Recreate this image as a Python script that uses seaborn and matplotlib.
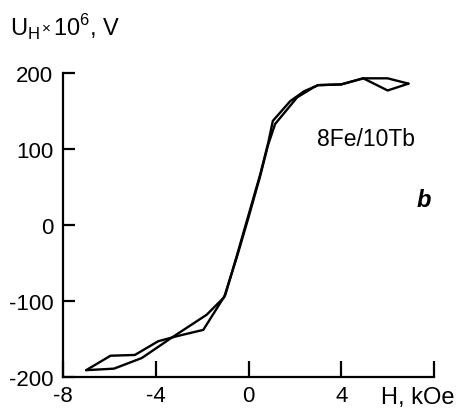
import matplotlib
matplotlib.use("Agg")
import matplotlib.pyplot as plt
import seaborn as sns
import pandas as pd

# Hall voltage loop, field swept down (branch A) and back up (branch B)
h_down = [6.9, 6.0, 4.95, 4.0, 3.0, 2.4, 1.8, 1.05, 0.85, 0.5, 0.0, -0.5, -1.0,
          -1.95, -3.05, -3.9, -4.9, -5.95, -7.0]
u_down = [186, 193, 193, 185, 184, 176, 163, 137, 108, 66, 13, -40, -92,
          -138, -146, -153, -171, -172, -191]
h_up = [-7.0, -5.8, -4.6, -3.35, -1.8, -1.05, -0.5, 0.0, 0.5, 0.85, 1.15, 2.1,
        2.8, 3.0, 4.0, 4.95, 6.0, 6.9]
u_up = [-191, -189, -175, -149, -118, -95, -42, 10, 64, 106, 133, 168,
        181, 184, 185, 193, 177, 186]

x_ticks = [-8, -4, 0, 4, 8]
x_tick_labels = ["-8", "-4", "0", "4", ""]
y_ticks = [-200, -100, 0, 100, 200]
y_tick_labels = ["-200", "-100", "0", "100", "200"]

sns.set_theme(style="ticks")
plt.rcParams["font.family"] = ["Liberation Sans", "DejaVu Sans"]
plt.rcParams["mathtext.fontset"] = "custom"
plt.rcParams["mathtext.rm"] = "Liberation Sans"
plt.rcParams["text.color"] = "black"

df = pd.concat([
    pd.DataFrame({"H": h_down, "U": u_down, "branch": "down",
                  "step": range(len(h_down))}),
    pd.DataFrame({"H": h_up, "U": u_up, "branch": "up",
                  "step": range(len(h_up))}),
], ignore_index=True)

W, Hpx = 462, 410
fig = plt.figure(figsize=(W / 100, Hpx / 100), dpi=100)
ax = fig.add_axes([63 / W, 32 / Hpx, 371 / W, 304 / Hpx])

sns.lineplot(data=df, x="H", y="U", units="branch", estimator=None,
             sort=False, color="black", linewidth=1.7, ax=ax, clip_on=False)

ax.set_xlim(-8, 8)
ax.set_ylim(-200, 200)
ax.set_xticks(x_ticks)
ax.set_xticklabels(x_tick_labels)
ax.set_yticks(y_ticks)
ax.set_yticklabels(y_tick_labels)
ax.set_xlabel("")
ax.set_ylabel("")

for side in ("top", "right"):
    ax.spines[side].set_visible(False)
for side in ("left", "bottom"):
    ax.spines[side].set_linewidth(1.6)
    ax.spines[side].set_color("black")

ax.tick_params(axis="x", direction="in", length=11.5, width=1.6, pad=6,
               labelsize=16, colors="black")
ax.tick_params(axis="y", direction="in", length=8.5, width=1.6, pad=7,
               labelsize=16, colors="black")

ax.text(2.97, 114, "8Fe/10Tb", fontsize=16.5, ha="left", va="center")
ax.text(7.54, 33, "b", fontsize=17, fontweight="bold", fontstyle="italic",
        ha="center", va="center")

fig.text(418 / W, 1 - 398 / Hpx, "H, kOe", fontsize=17,
         ha="center", va="center")

# y-axis title: U_H, a small raised multiplication sign, then 10^6, V
renderer = fig.canvas.get_renderer()
baseline = 1 - 36 / Hpx
t1 = fig.text(10 / W, baseline, r"U$_\mathregular{H}$",
              fontsize=17, ha="left", va="baseline")
x_next = t1.get_window_extent(renderer).x1 + 2
t2 = fig.text(x_next / W, baseline + 3 / Hpx, "×", fontsize=11,
              ha="left", va="baseline")
x_next = t2.get_window_extent(renderer).x1 + 2
fig.text(x_next / W, baseline, r"10$^\mathregular{6}$, V",
         fontsize=17, ha="left", va="baseline")

fig.savefig("out.png", dpi=100, facecolor="white")
